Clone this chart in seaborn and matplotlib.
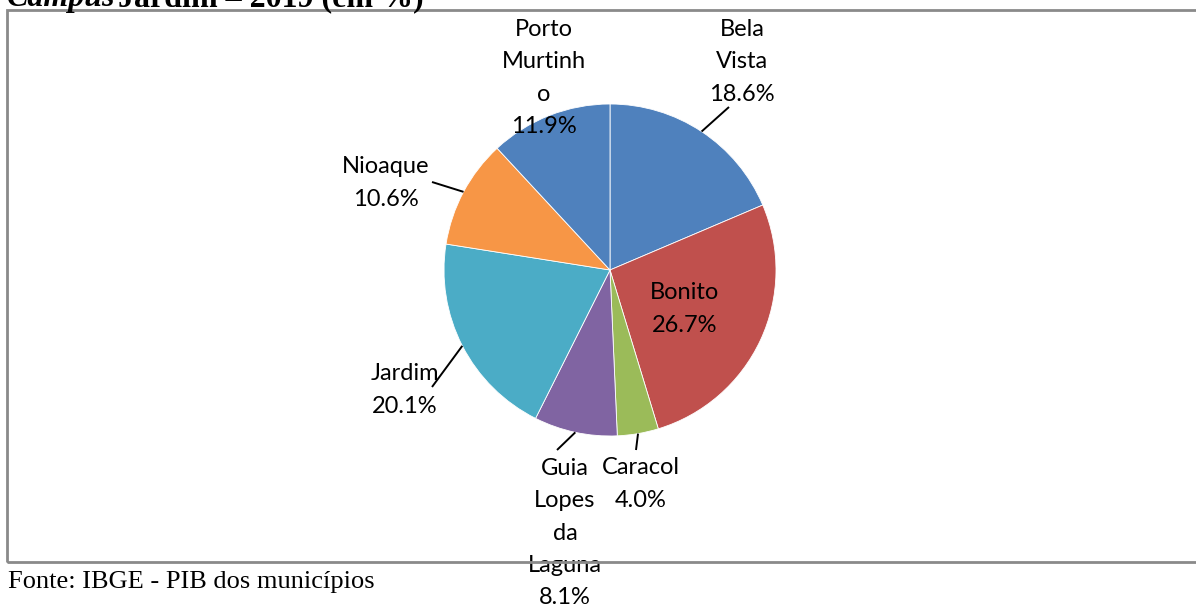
import matplotlib
matplotlib.use("Agg")
import matplotlib.pyplot as plt
import seaborn as sns
import numpy as np
from matplotlib.patches import Rectangle

# ---- data ----
municipios = ["Bela Vista", "Bonito", "Caracol", "Guia Lopes da Laguna",
              "Jardim", "Nioaque", "Porto Murtinho"]
label_text = ["Bela\nVista", "Bonito", "Caracol", "Guia\nLopes\nda\nLaguna",
              "Jardim", "Nioaque", "Porto\nMurtinh\no"]
valores = [18.6, 26.7, 4.0, 8.1, 20.1, 10.6, 11.9]
cores = ["#4F81BD", "#C0504D", "#9BBB59", "#8064A2", "#4BACC6", "#F79646", "#4F81BD"]

titulo = "Jardim – 2019 (em %)"
fonte = "Fonte: IBGE - PIB dos municípios"

sns.set_theme(style="white")
plt.rcParams['font.family'] = ['Lato', 'DejaVu Sans']
plt.rcParams['text.color'] = 'black'

W, H = 1196, 609
fig = plt.figure(figsize=(W / 100, H / 100), dpi=100)
ax = fig.add_axes([0, 0, 1, 1])

cx, cy, R = 610, H - 270, 166
wedges, _ = ax.pie(valores, colors=cores, startangle=90, counterclock=False,
                   center=(cx, cy), radius=R,
                   wedgeprops=dict(edgecolor="white", linewidth=0.6))
ax.set_xlim(0, W)
ax.set_ylim(0, H)
ax.set_aspect("auto")
ax.axis("off")

# label layout (pixel positions, image coordinates) and leader ends
label_pos = {
    "Bela Vista": (742, 62),
    "Bonito": (685, 309),
    "Caracol": (641, 484),
    "Guia Lopes da Laguna": (565, 533),
    "Jardim": (405, 390),
    "Nioaque": (386, 183),
    "Porto Murtinho": (544, 78),
}
leader_end = {
    "Bela Vista": (729, 107),
    "Caracol": (636, 450),
    "Guia Lopes da Laguna": (557, 450),
    "Jardim": (432, 387),
    "Nioaque": (432, 182),
}

for w, name, txt, v in zip(wedges, municipios, label_text, valores):
    x, y = label_pos[name]
    ax.text(x, H - y, f"{txt}\n{v:.1f}%", ha="center", va="center",
            fontsize=17, linespacing=1.65, color="black", clip_on=False)
    if name in leader_end:
        mid = np.deg2rad((w.theta1 + w.theta2) / 2)
        px, py = cx + R * np.cos(mid), cy + R * np.sin(mid)
        lx, ly = leader_end[name]
        ax.plot([px, lx], [py, H - ly], color="black", lw=1.4,
                solid_capstyle="butt", clip_on=False)

# chart frame
fig.patches.append(Rectangle((7 / W, 1 - 562 / H), 1.2, (562 - 10) / H,
                             transform=fig.transFigure, fill=False,
                             edgecolor="#8a8a8a", linewidth=2, zorder=0))

# title (partially cut at top, as in the source page) and source note
fig.text(7 / W, 1 - 6 / H, "Campus", fontfamily="Liberation Serif",
         fontweight="bold", fontstyle="italic", fontsize=23, va="baseline",
         ha="left", color="black")
fig.text(118 / W, 1 - 6 / H, titulo, fontfamily="Liberation Serif",
         fontweight="bold", fontsize=23, va="baseline", ha="left", color="black")
fig.text(8 / W, 1 - 588 / H, fonte, fontfamily="Liberation Serif",
         fontsize=19, va="baseline", ha="left", color="black")

fig.savefig("out.png", dpi=100)
